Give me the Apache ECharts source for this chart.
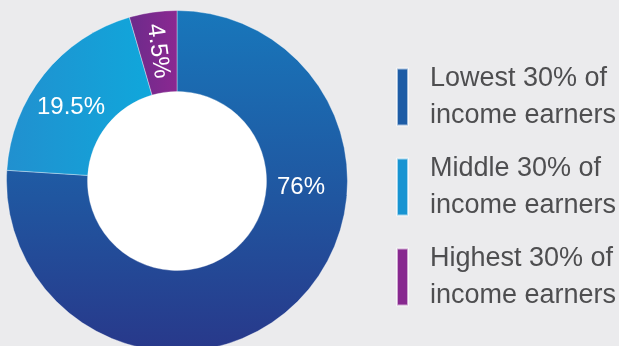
<!DOCTYPE html>
<html>
<head>
<meta charset="utf-8">
<script src="https://cdn.jsdelivr.net/npm/echarts@6/dist/echarts.min.js"></script>
<style>
html,body{margin:0;padding:0;background:#ebebed;}
#c{width:619px;height:346px;}
</style>
</head>
<body>
<div id="c"></div>
<script>
var categories = ["Lowest 30% of\nincome earners", "Middle 30% of\nincome earners", "Highest 30% of\nincome earners"];
var values = [76, 19.5, 4.5];
var valueLabels = ["76%", "19.5%", "4.5%"];
var legendColors = ["#1d5ca6", "#1794d2", "#87288f"];

var grad = echarts.graphic.LinearGradient;
var fills = [
  new grad(0, 0, 0, 1, [{offset: 0, color: "#1877bb"}, {offset: 0.55, color: "#2056a0"}, {offset: 1, color: "#28388a"}]),
  new grad(0, 0, 1, 0, [{offset: 0, color: "#2190cf"}, {offset: 1, color: "#10a7db"}]),
  new grad(0, 0, 1, 0, [{offset: 0, color: "#6c2b8b"}, {offset: 1, color: "#8b2891"}])
];
var labelPos = [
  {x: 301, y: 187, rotate: 0},
  {x: 71, y: 107, rotate: 0},
  {x: 158, y: 51, rotate: -82}
];

var chart = echarts.init(document.getElementById('c'), null, {renderer: 'canvas'});
chart.setOption({
  backgroundColor: '#ebebed',
  animation: false,
  legend: {
    orient: 'vertical',
    left: 396,
    top: 60,
    padding: 0,
    icon: 'rect',
    itemWidth: 11,
    itemHeight: 57,
    itemGap: 16,
    selectedMode: false,
    textStyle: {
      fontFamily: 'Liberation Sans, Arial, sans-serif',
      fontSize: 27,
      color: '#4e4e50',
      lineHeight: 37,
      padding: [0, 0, 0, 17]
    },
    data: categories.map(function (c, i) {
      return {name: c, itemStyle: {color: legendColors[i]}};
    })
  },
  series: [
    {
      type: 'pie',
      center: [177, 181],
      radius: [0, 89.5],
      silent: true,
      label: {show: false},
      labelLine: {show: false},
      itemStyle: {color: '#ffffff'},
      data: [{value: 1, name: '__hole'}],
      z: 1
    },
    {
      type: 'pie',
      center: [177, 181],
      radius: [89.5, 170.5],
      startAngle: 90,
      clockwise: true,
      silent: true,
      itemStyle: {borderColor: 'rgba(255,255,255,0.6)', borderWidth: 0.6},
      label: {
        show: true,
        position: 'inside',
        color: '#ffffff',
        fontSize: 24,
        fontFamily: 'Liberation Sans, Arial, sans-serif',
        formatter: function (p) { return valueLabels[p.dataIndex]; }
      },
      labelLayout: function (p) {
        var lp = labelPos[p.dataIndex];
        return {x: lp.x, y: lp.y, rotate: lp.rotate, align: 'center', verticalAlign: 'middle'};
      },
      data: categories.map(function (c, i) {
        return {name: c, value: values[i], itemStyle: {color: fills[i]}};
      }),
      z: 2
    }
  ]
});
</script>
</body>
</html>
